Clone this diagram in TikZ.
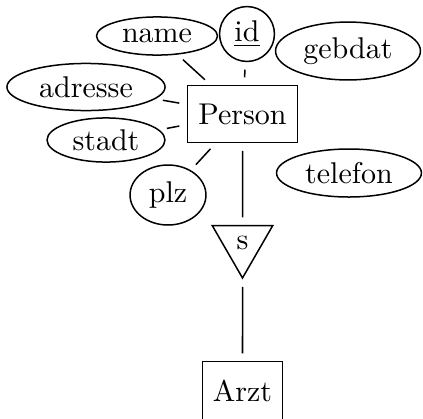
\documentclass[tikz,border=0pt]{standalone}
\usetikzlibrary{shapes.geometric}
\tikzset{
  ent/.style={draw,rectangle,inner sep=0pt},
  attr/.style={draw,ellipse,inner sep=0pt},
  schl/.style={draw,circle,inner sep=0pt},
  isa/.style={draw,regular polygon,regular polygon sides=3,shape border rotate=180,
    inner sep=0pt,minimum size=23.3pt},
  kante/.style={shorten >=2.5pt,shorten <=2.5pt},
}
\begin{document}
\begin{tikzpicture}[x=0.3333pt,y=-0.3333pt,line width=0.5pt]
  \useasboundingbox (0,0) rectangle (423,418);
  % Entitaeten
  \node[ent,minimum width=36.7pt,minimum height=19pt] (person) at (242.5,114) {Person};
  \node[ent,minimum width=26.5pt,minimum height=19.2pt] (arzt) at (242.5,390.5) {Arzt};
  \node[isa] (s) at (242.5,243) {s};
  % Attribute
  \node[attr,minimum width=40.3pt,minimum height=12.7pt] (name) at (157,36) {name};
  \node[schl,minimum size=18.3pt] (id) at (247,34) {\underline{id}};
  \node[attr,minimum width=48.3pt,minimum height=19.3pt] (gebdat) at (348,51) {gebdat};
  \node[attr,minimum width=52.7pt,minimum height=15.7pt] (adresse) at (86,87) {adresse};
  \node[attr,minimum width=39.3pt,minimum height=14.7pt] (stadt) at (106,140) {stadt};
  \node[attr,minimum width=25.3pt,minimum height=20pt] (plz) at (168,195) {plz};
  \node[attr,minimum width=48.3pt,minimum height=16pt] (telefon) at (349,173) {telefon};
  % Kanten
  \draw[kante] (name) -- (person);
  \draw[kante] (id) -- (person);
  \draw[kante] (adresse) -- (person);
  \draw[kante] (stadt) -- (person);
  \draw[kante] (plz) -- (person);
  \draw[kante] (person) -- (s);
  \draw[kante] (s) -- (arzt);
\end{tikzpicture}
\end{document}
